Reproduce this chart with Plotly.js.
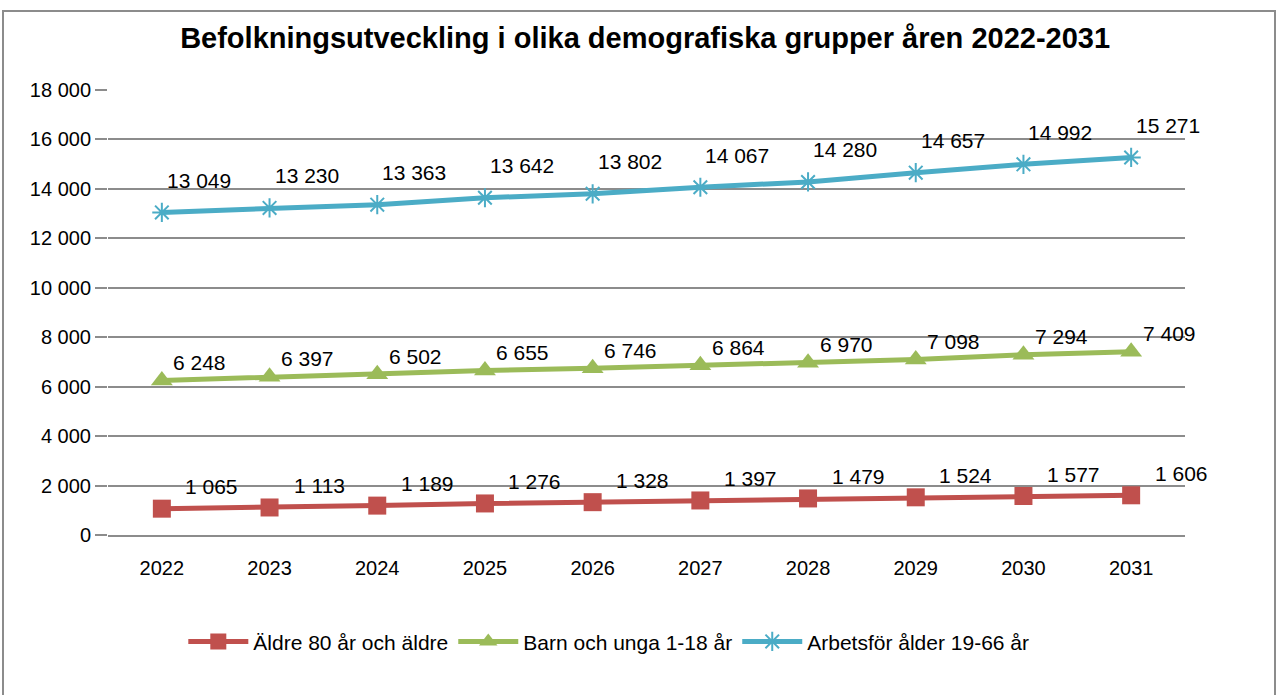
<!DOCTYPE html>
<html lang="sv">
<head>
<meta charset="UTF-8">
<title>Befolkningsutveckling</title>
<script src="https://cdn.plot.ly/plotly-3.0.1.min.js"></script>
<style>
    body { margin: 0; background: white; }
    #frame {
        position: absolute; left: 2px; top: 10px;
        width: 1274px; height: 690px;
        border: 2px solid #8c8c8c;
        box-sizing: border-box;
    }
    #plot { position: absolute; left: 0; top: 0; width: 1280px; height: 695px; }
</style>
</head>
<body>
<div id="frame"></div>
<div id="plot"></div>
<script>
    const years = ['2022', '2023', '2024', '2025', '2026', '2027', '2028', '2029', '2030', '2031'];
    const aldre = [1065, 1113, 1189, 1276, 1328, 1397, 1479, 1524, 1577, 1606];
    const barn = [6248, 6397, 6502, 6655, 6746, 6864, 6970, 7098, 7294, 7409];
    const arbetsfor = [13049, 13230, 13363, 13642, 13802, 14067, 14280, 14657, 14992, 15271];

    const seriesNames = ['Äldre 80 år och äldre', 'Barn och unga 1-18 år', 'Arbetsför ålder 19-66 år'];

    const font = '"Liberation Sans", Arial, sans-serif';

    function fmt(v) {
        // Swedish style: space as thousands separator
        return String(v).replace(/\B(?=(\d{3})+(?!\d))/g, ' ');
    }

    function line(name, y, color, symbol, size, extraMarker) {
        return {
            x: years, y: y, name: name,
            type: 'scatter', mode: 'lines+markers',
            line: {color: color, width: 5},
            marker: Object.assign({color: color, symbol: symbol, size: size}, extraMarker || {}),
            hoverinfo: 'x+y'
        };
    }

    const traces = [
        line(seriesNames[0], aldre, '#C0504D', 'square', 18),
        line(seriesNames[1], barn, '#9BBB59', 'triangle-up', 19),
        line(seriesNames[2], arbetsfor, '#4BACC6', 'asterisk-open', 16, {line: {color: '#4BACC6', width: 2}})
    ];

    // data labels, shifted up-right like the Excel original
    function labels(y, dx, dy) {
        return y.map((v, i) => ({
            x: i, y: v, xref: 'x', yref: 'y',
            text: fmt(v),
            showarrow: false, xshift: dx, yshift: dy,
            font: {family: font, size: 21, color: '#000'}
        }));
    }

    const annotations = [].concat(
        labels(aldre, 50, 22),
        labels(barn, 38, 18),
        labels(arbetsfor, 37, 32)
    );

    const layout = {
        width: 1280, height: 695,
        paper_bgcolor: 'rgba(0,0,0,0)',
        plot_bgcolor: 'rgba(0,0,0,0)',
        separators: ', ',
        font: {family: font, size: 19, color: '#000'},
        margin: {l: 108, r: 95, t: 90, b: 160},
        title: {
            text: '<b>Befolkningsutveckling i olika demografiska grupper åren 2022-2031</b>',
            font: {family: font, size: 29, color: '#000'},
            x: 0.504, xanchor: 'center', y: 0.945, yanchor: 'middle'
        },
        xaxis: {
            type: 'category',
            range: [-0.5, 9.5],
            showgrid: false,
            showline: true, linecolor: '#8c8c8c', linewidth: 2,
            ticks: 'outside', ticklen: 14, tickcolor: 'rgba(0,0,0,0)',
            tickfont: {family: font, size: 20},
            zeroline: false
        },
        yaxis: {
            range: [0, 18000],
            tickvals: [0, 2000, 4000, 6000, 8000, 10000, 12000, 14000, 16000, 18000],
            tickformat: ',d',
            showgrid: true, gridcolor: '#8c8c8c', gridwidth: 2,
            ticks: 'outside', ticklen: 12, tickcolor: '#8c8c8c', tickwidth: 2,
            showline: false, zeroline: false,
            tickfont: {family: font, size: 20}
        },
        showlegend: true,
        legend: {
            orientation: 'h',
            x: 0.465, xanchor: 'center',
            y: -0.24, yanchor: 'middle',
            font: {family: font, size: 21},
            itemwidth: 60,
            tracegroupgap: 0
        },
        annotations: annotations
    };

    Plotly.newPlot('plot', traces, layout, {displayModeBar: false, staticPlot: true});
</script>
</body>
</html>
